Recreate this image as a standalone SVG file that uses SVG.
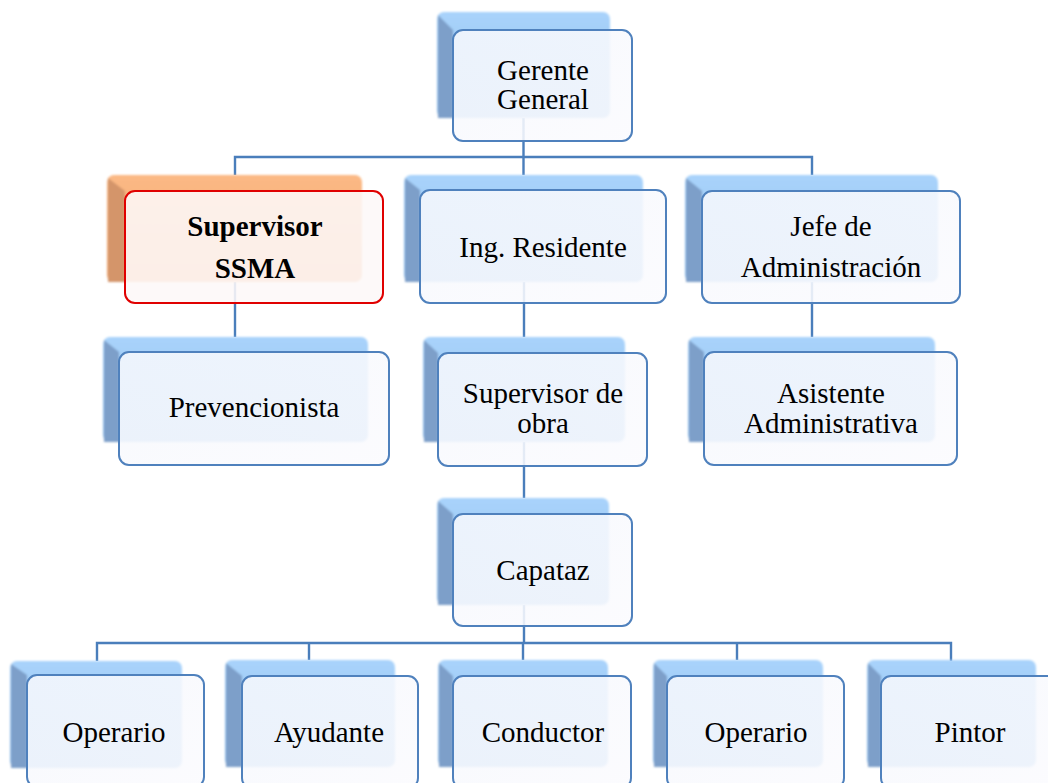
<svg xmlns="http://www.w3.org/2000/svg" width="1048" height="783" viewBox="0 0 1048 783">
<defs>
<filter id="soft" x="-5%" y="-5%" width="110%" height="110%"><feGaussianBlur stdDeviation="1"/></filter>
<linearGradient id="gb" x1="0" y1="0" x2="0" y2="1"><stop offset="0" stop-color="#a9d3fb"/><stop offset="1" stop-color="#8fbdea"/></linearGradient>
<linearGradient id="go" x1="0" y1="0" x2="0" y2="1"><stop offset="0" stop-color="#fbb985"/><stop offset="1" stop-color="#f0a46c"/></linearGradient>
<linearGradient id="gf" x1="0" y1="0" x2="1" y2="1"><stop offset="0" stop-color="#f6f8fd"/><stop offset="1" stop-color="#fbfbfe"/></linearGradient>
</defs>
<style>
.conn{fill:none;stroke:#4a7ebb;stroke-width:2.4}
.back{fill:url(#gb)}
.bev{fill:#7d9fc9}
.backo{fill:url(#go)}
.bevo{fill:#d4956a}
.front{fill:url(#gf);fill-opacity:0.88;stroke:#4f81bd;stroke-width:2}
.fronto{fill:#fdf8f8;fill-opacity:0.88;stroke:#e00000;stroke-width:2}
.bk{filter:url(#soft)}
text{font-family:"Liberation Serif","Times New Roman",serif;font-size:29px;fill:#000;text-anchor:middle}
.b{font-weight:bold}
</style>
<rect width="1048" height="783" fill="#fff"/>
<g id="connectors">
<path class="conn" d="M523.5 118V175M235 175V157H812V175"/>
<path class="conn" d="M235 282V337"/>
<path class="conn" d="M524 282V337"/>
<path class="conn" d="M812 282V337"/>
<path class="conn" d="M524 442V498"/>
<path class="conn" d="M524 605V643M97 661V643H951V661M309 643V660M523 643V660M737 643V660"/>
</g>
<g id="n-gerente">
<g class="bk"><rect class="back" x="437" y="12" width="173" height="106" rx="7"/><polygon class="bev" points="438,15 453,30 453,118 438,118"/></g>
<rect class="front" x="453" y="30" width="179" height="111" rx="10"/>
<text x="543" y="80">Gerente</text><text x="543" y="109">General</text>
</g>
<g id="n-ssma">
<g class="bk"><rect class="backo" x="107" y="175" width="255" height="107" rx="7"/><polygon class="bevo" points="108,178 125,191 125,282 108,282"/></g>
<rect class="fronto" x="125" y="191" width="258" height="112" rx="10"/>
<text class="b" x="255" y="236">Supervisor</text><text class="b" x="255" y="278">SSMA</text>
</g>
<g id="n-ing">
<g class="bk"><rect class="back" x="404" y="175" width="239" height="107" rx="7"/><polygon class="bev" points="405,178 420,190 420,282 405,282"/></g>
<rect class="front" x="420" y="190" width="246" height="113" rx="10"/>
<text x="543" y="257">Ing. Residente</text>
</g>
<g id="n-jefe">
<g class="bk"><rect class="back" x="685" y="175" width="253" height="107" rx="7"/><polygon class="bev" points="686,178 702,191 702,282 686,282"/></g>
<rect class="front" x="702" y="191" width="258" height="112" rx="10"/>
<text x="831" y="236">Jefe de</text><text x="831" y="277">Administración</text>
</g>
<g id="n-prev">
<g class="bk"><rect class="back" x="103" y="337" width="265" height="105" rx="7"/><polygon class="bev" points="104,340 119,352 119,442 104,442"/></g>
<rect class="front" x="119" y="352" width="270" height="113" rx="10"/>
<text x="254" y="417">Prevencionista</text>
</g>
<g id="n-supobra">
<g class="bk"><rect class="back" x="423" y="337" width="202" height="105" rx="7"/><polygon class="bev" points="424,340 438,353 438,442 424,442"/></g>
<rect class="front" x="438" y="353" width="209" height="113" rx="10"/>
<text x="543" y="403">Supervisor de</text><text x="543" y="433">obra</text>
</g>
<g id="n-asist">
<g class="bk"><rect class="back" x="688" y="337" width="247" height="105" rx="7"/><polygon class="bev" points="689,340 704,352 704,442 689,442"/></g>
<rect class="front" x="704" y="352" width="253" height="113" rx="10"/>
<text x="831" y="403">Asistente</text><text x="831" y="433">Administrativa</text>
</g>
<g id="n-capataz">
<g class="bk"><rect class="back" x="437" y="498" width="172" height="107" rx="7"/><polygon class="bev" points="438,501 453,514 453,605 438,605"/></g>
<rect class="front" x="453" y="514" width="179" height="112" rx="10"/>
<text x="543" y="580">Capataz</text>
</g>
<g id="n-operario1">
<g class="bk"><rect class="back" x="10" y="661" width="172" height="107" rx="7"/><polygon class="bev" points="11,664 27,675 27,768 11,768"/></g>
<rect class="front" x="27" y="675" width="177" height="112" rx="10"/>
<text x="114" y="742">Operario</text>
</g>
<g id="n-ayudante">
<g class="bk"><rect class="back" x="225" y="660" width="170" height="107" rx="7"/><polygon class="bev" points="226,663 242,676 242,767 226,767"/></g>
<rect class="front" x="242" y="676" width="176" height="112" rx="10"/>
<text x="329" y="742">Ayudante</text>
</g>
<g id="n-conductor">
<g class="bk"><rect class="back" x="438" y="660" width="170" height="107" rx="7"/><polygon class="bev" points="439,663 453,676 453,767 439,767"/></g>
<rect class="front" x="453" y="676" width="178" height="112" rx="10"/>
<text x="543" y="742">Conductor</text>
</g>
<g id="n-operario2">
<g class="bk"><rect class="back" x="653" y="660" width="170" height="107" rx="7"/><polygon class="bev" points="654,663 667,676 667,767 654,767"/></g>
<rect class="front" x="667" y="676" width="177" height="112" rx="10"/>
<text x="756" y="742">Operario</text>
</g>
<g id="n-pintor">
<g class="bk"><rect class="back" x="867" y="660" width="169" height="107" rx="7"/><polygon class="bev" points="868,663 881,676 881,767 868,767"/></g>
<rect class="front" x="881" y="676" width="177" height="112" rx="10"/>
<text x="970" y="742">Pintor</text>
</g>
</svg>
